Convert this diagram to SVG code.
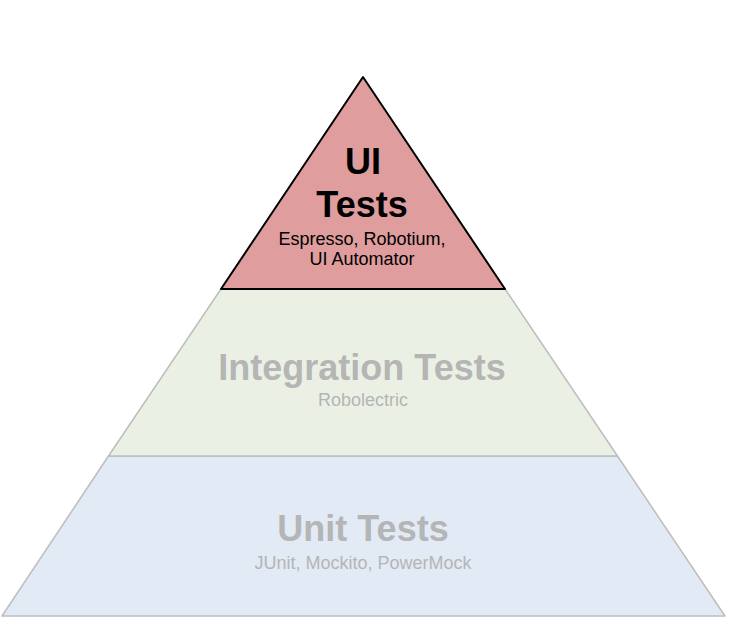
<svg xmlns="http://www.w3.org/2000/svg" width="730" height="618" viewBox="0 0 730 618">
<style>
.t{font-family:"Liberation Sans",Arial,sans-serif;text-anchor:middle}
.big{font-size:36px;font-weight:bold}
.sm{font-size:18px}
.g{fill:#b5b5b5}
.k{fill:#000}
.lay{stroke:#bdbdbd;stroke-width:1.5;stroke-linejoin:round}
</style>
<rect width="730" height="618" fill="#fff"/>
<g id="unit">
<polygon class="lay" points="108.5,456 617.5,456 725,616 2,616" fill="#e2eaf5"/>
<text class="t big g" x="363" y="541">Unit Tests</text>
<text class="t sm g" x="363" y="569">JUnit, Mockito, PowerMock</text>
</g>
<g id="integration">
<polygon class="lay" points="221,289 505,289 617.5,456 108.5,456" fill="#eaf1e4"/>
<text class="t big g" x="362" y="380">Integration Tests</text>
<text class="t sm g" x="363" y="406">Robolectric</text>
</g>
<g id="ui">
<polygon points="363,77 505,289 221,289" fill="#df9d9d" stroke="#000" stroke-width="2" stroke-linejoin="round"/>
<text class="t big k" x="363" y="174">UI</text>
<text class="t big k" x="362" y="217">Tests</text>
<text class="t sm k" x="362" y="245">Espresso, Robotium,</text>
<text class="t sm k" x="362" y="265">UI Automator</text>
</g>
<g id="connectors"></g>
</svg>
